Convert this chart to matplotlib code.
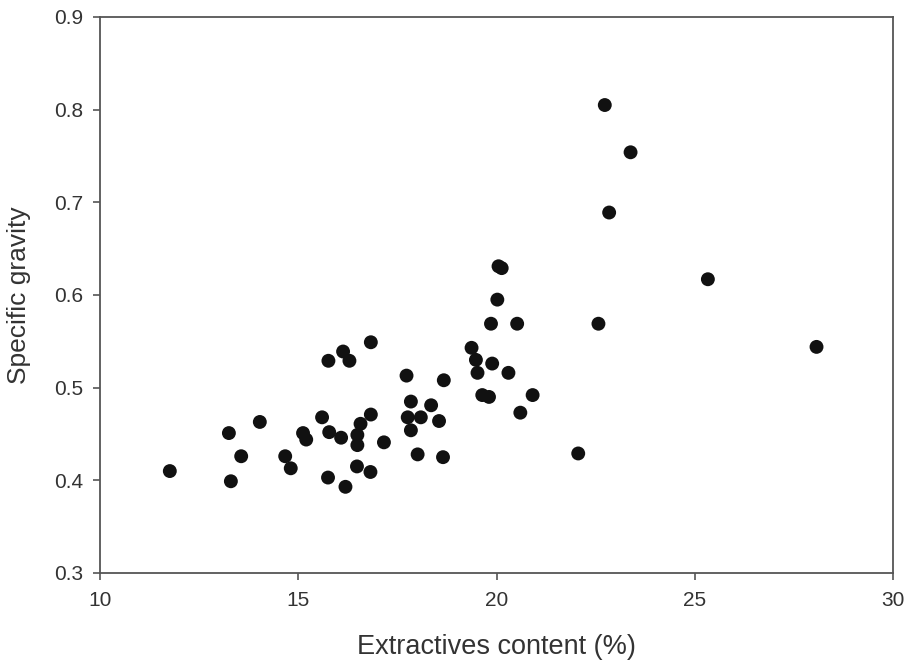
import numpy as np
import matplotlib
matplotlib.use("Agg")
import matplotlib.pyplot as plt

# Extractives content (%) vs specific gravity
extractives = [11.76, 13.25, 13.30, 13.56, 14.03, 14.67, 14.81, 15.12, 15.20,
               15.60, 15.76, 15.78, 15.75, 16.08, 16.13, 16.29, 16.19, 16.49,
               16.49, 16.48, 16.57, 16.83, 16.83, 16.82, 17.16, 17.73, 17.76,
               17.84, 17.84, 18.01, 18.09, 18.35, 18.55, 18.67, 18.65, 19.37,
               19.48, 19.52, 19.64, 19.81, 19.86, 19.89, 20.02, 20.05, 20.13,
               20.30, 20.52, 20.60, 20.91, 22.06, 22.57, 22.73, 22.84, 23.38,
               25.33, 28.07]
gravity = [0.410, 0.451, 0.399, 0.426, 0.463, 0.426, 0.413, 0.451, 0.444,
           0.468, 0.529, 0.452, 0.403, 0.446, 0.539, 0.529, 0.393, 0.449,
           0.438, 0.415, 0.461, 0.471, 0.549, 0.409, 0.441, 0.513, 0.468,
           0.485, 0.454, 0.428, 0.468, 0.481, 0.464, 0.508, 0.425, 0.543,
           0.530, 0.516, 0.492, 0.490, 0.569, 0.526, 0.595, 0.631, 0.629,
           0.516, 0.569, 0.473, 0.492, 0.429, 0.569, 0.805, 0.689, 0.754,
           0.617, 0.544]

x_ticks = [10, 15, 20, 25, 30]
y_ticks = [0.3, 0.4, 0.5, 0.6, 0.7, 0.8, 0.9]

plt.rcParams['font.family'] = ['Liberation Sans', 'DejaVu Sans']

fig = plt.figure(figsize=(9.11, 6.69), dpi=100)
ax = fig.add_axes([0.1098, 0.1435, 0.8705, 0.8311])

ax.scatter(extractives, gravity, s=100, color='#111111', edgecolors='none', zorder=3)

ax.set_xlim(10, 30)
ax.set_ylim(0.3, 0.9)
ax.set_xticks(x_ticks)
ax.set_yticks(y_ticks)
ax.set_yticklabels([f"{v:.1f}" for v in y_ticks])

for sp in ax.spines.values():
    sp.set_color('#555555')
    sp.set_linewidth(1.3)
ax.tick_params(direction='out', length=5, width=1.2, color='#555555',
               labelsize=15, labelcolor='#333333')
ax.tick_params(axis='x', pad=8)
ax.tick_params(axis='y', pad=7)

ax.set_xlabel("Extractives content (%)", fontsize=19.5, color='#333333', labelpad=17)
ax.set_ylabel("Specific gravity", fontsize=19, color='#333333', labelpad=17)

fig.savefig("out.png", dpi=100)
